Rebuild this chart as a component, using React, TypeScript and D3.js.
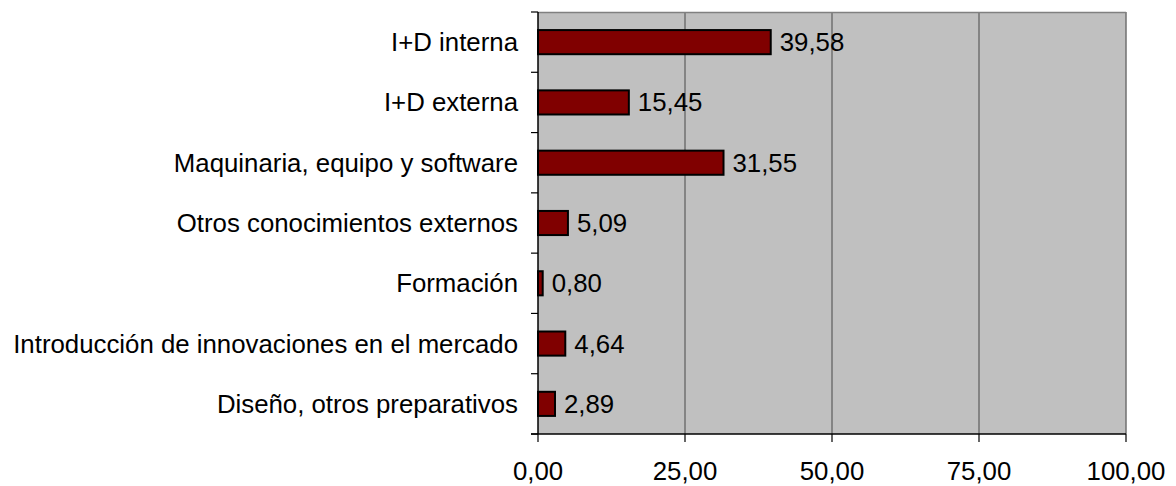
import React from "react";
import * as d3 from "d3";

const categories = [
  "I+D interna",
  "I+D externa",
  "Maquinaria, equipo y software",
  "Otros conocimientos externos",
  "Formación",
  "Introducción de innovaciones en el mercado",
  "Diseño, otros preparativos",
];
const values = [39.58, 15.45, 31.55, 5.09, 0.8, 4.64, 2.89];
const xTicks = [0, 25, 50, 75, 100];

const fmt = (v: number) => v.toFixed(2).replace(".", ",");

const App: React.FC = () => {
  const width = 1176;
  const height = 486;
  const margin = { top: 12, right: 50, bottom: 52, left: 538 };
  const innerW = width - margin.left - margin.right;
  const innerH = height - margin.top - margin.bottom;

  const x = d3.scaleLinear().domain([0, 100]).range([0, innerW]);
  const y = d3
    .scaleBand<string>()
    .domain(categories)
    .range([0, innerH])
    .paddingInner(0.6)
    .paddingOuter(0.3);
  const step = innerH / categories.length;
  const font = "'Liberation Sans', Arial, sans-serif";
  const fs = 25.8;

  return (
    <svg
      width={width}
      height={height}
      style={{ position: "absolute", top: 0, left: 0, background: "#fff" }}
      fontFamily={font}
    >
      <g transform={`translate(${margin.left},${margin.top})`}>
        {/* plot background */}
        <rect x={0} y={0} width={innerW} height={innerH} fill="#c0c0c0" />
        {/* gridlines */}
        {xTicks.slice(1).map((t) => (
          <line
            key={t}
            x1={x(t)}
            x2={x(t)}
            y1={0}
            y2={innerH}
            stroke="#707070"
            strokeWidth={1.5}
          />
        ))}
        <line x1={0} x2={innerW} y1={0.5} y2={0.5} stroke="#808080" strokeWidth={1.5} />

        {/* bars */}
        {categories.map((c, i) => (
          <rect
            key={c}
            x={0}
            y={y(c)}
            width={x(values[i])}
            height={y.bandwidth()}
            fill="#800000"
            stroke="#000"
            strokeWidth={2}
          />
        ))}
        {/* value labels */}
        {categories.map((c, i) => (
          <text
            key={c}
            x={x(values[i]) + 9}
            y={(y(c) ?? 0) + y.bandwidth() / 2}
            dy="0.35em"
            fontSize={fs}
            fill="#000"
          >
            {fmt(values[i])}
          </text>
        ))}

        {/* y axis */}
        <line x1={0} x2={0} y1={0} y2={innerH} stroke="#000" strokeWidth={1.5} />
        {d3.range(categories.length + 1).map((i) => (
          <line
            key={i}
            x1={-7}
            x2={0}
            y1={i * step}
            y2={i * step}
            stroke="#000"
            strokeWidth={1.2}
          />
        ))}
        {categories.map((c) => (
          <text
            key={c}
            x={-20}
            y={(y(c) ?? 0) + y.bandwidth() / 2}
            dy="0.35em"
            textAnchor="end"
            fontSize={fs}
            fill="#000"
          >
            {c}
          </text>
        ))}

        {/* x axis */}
        <line x1={-7} x2={innerW} y1={innerH} y2={innerH} stroke="#000" strokeWidth={1.5} />
        {xTicks.map((t) => (
          <g key={t} transform={`translate(${x(t)},${innerH})`}>
            <line y1={0} y2={8} stroke="#000" strokeWidth={1.2} />
            <text y={46} textAnchor="middle" fontSize={fs} fill="#000">
              {fmt(t)}
            </text>
          </g>
        ))}
      </g>
    </svg>
  );
};

export default App;
